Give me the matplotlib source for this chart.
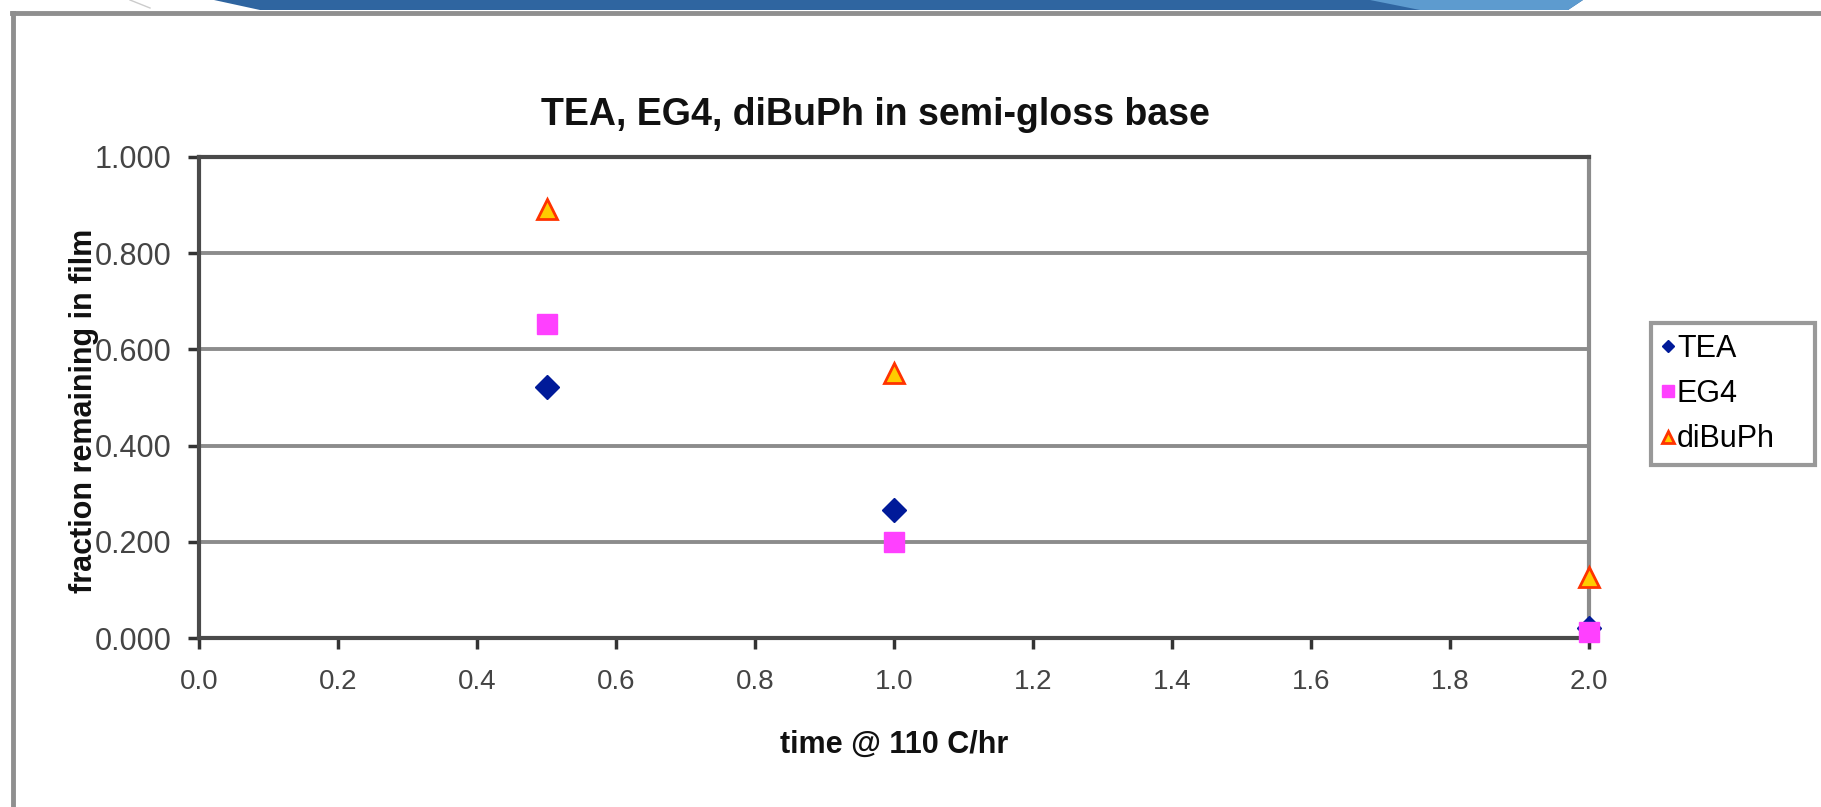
import numpy as np
import matplotlib.pyplot as plt
from matplotlib.patches import Polygon

plt.rcParams['font.family'] = ['Liberation Sans', 'DejaVu Sans']

# data
time_hr = [0.5, 1.0, 2.0]
tea = [0.522, 0.266, 0.020]
eg4 = [0.652, 0.200, 0.012]
dibuph = [0.891, 0.551, 0.126]

x_ticks = [0.0, 0.2, 0.4, 0.6, 0.8, 1.0, 1.2, 1.4, 1.6, 1.8, 2.0]
y_ticks = [0.0, 0.2, 0.4, 0.6, 0.8, 1.0]

W, H = 1821, 807
fig = plt.figure(figsize=(W / 100, H / 100), dpi=100)
fig.patch.set_facecolor('white')

# slide decoration: blue banner at the top and grey frame
fig.add_artist(Polygon([(214 / W, 1), (1583 / W, 1), (1568 / W, 1 - 10 / H), (260 / W, 1 - 10 / H)],
                       closed=True, transform=fig.transFigure, facecolor='#2f65a0',
                       edgecolor='none'))
fig.add_artist(Polygon([(1370 / W, 1), (1583 / W, 1), (1568 / W, 1 - 10 / H), (1420 / W, 1 - 10 / H)],
                       closed=True, transform=fig.transFigure, facecolor='#5d9bcf',
                       edgecolor='none'))
fig.add_artist(plt.Line2D([130 / W, 150 / W], [1, 1 - 8 / H], transform=fig.transFigure,
                          color='#cccccc', lw=1))
fig.add_artist(plt.Line2D([12 / W, 1], [1 - 13 / H, 1 - 13 / H], transform=fig.transFigure,
                          color='#8f8f8f', lw=3.5))
fig.add_artist(plt.Line2D([13 / W, 13 / W], [0, 1 - 13 / H], transform=fig.transFigure,
                          color='#8f8f8f', lw=3.5))

ax = fig.add_axes([199 / W, 1 - 638 / H, (1589 - 199) / W, (638 - 157) / H])

ax.plot(time_hr, tea, linestyle='none', marker='D', markersize=12, color='#001a99',
        markeredgecolor='#001a99', label='TEA', clip_on=False, zorder=3)
ax.plot(time_hr, eg4, linestyle='none', marker='s', markersize=15, color='#ff40ff',
        markeredgecolor='#ff40ff', label='EG4', clip_on=False, zorder=4)
ax.plot(time_hr, dibuph, linestyle='none', marker='^', markersize=15, color='#ffcc00',
        markeredgecolor='#ff3300', markeredgewidth=2, label='diBuPh', clip_on=False, zorder=5)

ax.set_xlim(0, 2.0)
ax.set_ylim(0, 1.0)
ax.set_xticks(x_ticks)
ax.set_yticks(y_ticks)
ax.set_xticklabels([f'{v:.1f}' for v in x_ticks])
ax.set_yticklabels([f'{v:.3f}' for v in y_ticks])
ax.tick_params(axis='both', direction='out', length=8, width=2.5, color='#333333',
               labelcolor='#444444')
ax.tick_params(axis='x', pad=14, labelsize=20)
ax.tick_params(axis='y', pad=12, labelsize=22)

ax.yaxis.grid(True, color='#8c8c8c', linewidth=2.8)
ax.set_axisbelow(True)
for side in ['left', 'bottom', 'top']:
    ax.spines[side].set_color('#4a4a4a')
    ax.spines[side].set_linewidth(3)
ax.spines['right'].set_color('#8c8c8c')
ax.spines['right'].set_linewidth(3)

ax.text(0.487, 1.066, 'TEA, EG4, diBuPh in semi-gloss base', transform=ax.transAxes,
        fontsize=27, fontweight='bold', ha='center', va='baseline', color='#111111')
ax.set_xlabel('time @ 110 C/hr', fontsize=22, fontweight='bold', color='#111111')
ax.xaxis.set_label_coords(0.5, -0.19)
ax.set_ylabel('fraction remaining in film', fontsize=22, fontweight='bold', color='#111111')
ax.yaxis.set_label_coords(-0.072, 0.472)

leg = ax.legend(loc='upper left', bbox_to_anchor=(1651 / W, 0.2, 164 / W, 1 - 323 / H - 0.2),
                bbox_transform=fig.transFigure, mode='expand', frameon=True, fancybox=False,
                fontsize=22, markerscale=0.55, handlelength=0.4, handletextpad=0.1,
                borderpad=0.35, labelspacing=0.5, borderaxespad=0)
leg.get_frame().set_edgecolor('#808080')
leg.get_frame().set_linewidth(3)

fig.savefig('out.png', dpi=100, facecolor='white')
